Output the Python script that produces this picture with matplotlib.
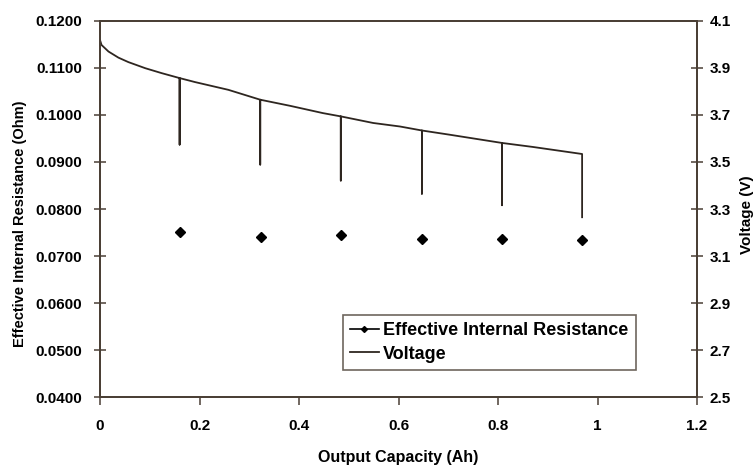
import matplotlib.pyplot as plt
from matplotlib.lines import Line2D

# data
res_cap = [0.161, 0.323, 0.484, 0.647, 0.808, 0.969]
res_ohm = [0.0752, 0.0740, 0.0745, 0.0736, 0.0736, 0.0734]

# voltage trace, each pulse goes down and back up at the same capacity
volt_cap = [0.0, 0.003, 0.017, 0.037, 0.057, 0.091, 0.124,
            0.160, 0.160, 0.160,
            0.191, 0.258, 0.322, 0.322, 0.322,
            0.382, 0.448, 0.484, 0.484, 0.484,
            0.549, 0.603, 0.647, 0.647, 0.647,
            0.703, 0.808, 0.808, 0.808,
            0.870, 0.969, 0.969]
volt_v = [4.019, 3.998, 3.970, 3.944, 3.925, 3.899, 3.878,
          3.857, 3.574, 3.857,
          3.840, 3.807, 3.765, 3.489, 3.765,
          3.739, 3.708, 3.694, 3.421, 3.694,
          3.666, 3.651, 3.634, 3.365, 3.634,
          3.616, 3.581, 3.316, 3.581,
          3.564, 3.534, 3.265]

left_ticks = [0.04, 0.05, 0.06, 0.07, 0.08, 0.09, 0.10, 0.11, 0.12]
right_ticks = [2.5, 2.7, 2.9, 3.1, 3.3, 3.5, 3.7, 3.9, 4.1]
x_ticks = [0, 0.2, 0.4, 0.6, 0.8, 1.0, 1.2]
x_labels = ["0", "0.2", "0.4", "0.6", "0.8", "1", "1.2"]

plt.rcParams['font.family'] = ['Liberation Sans', 'DejaVu Sans']
plt.rcParams['font.weight'] = 'bold'

frame = "#4a3f35"
ink = "#2e2620"

fig = plt.figure(figsize=(7.56, 4.66), dpi=100)
ax = fig.add_axes([0.1323, 0.148, 0.7897, 0.807])
ax2 = ax.twinx()

ax.plot(res_cap, res_ohm, linestyle="none", marker="D", markersize=5.5,
        color="black", zorder=3)
ax2.plot(volt_cap, volt_v, color=ink, linewidth=1.3)

ax.set_xlim(0, 1.2)
ax.set_ylim(0.04, 0.12)
ax2.set_ylim(2.5, 4.1)
ax.set_xticks(x_ticks)
ax.set_xticklabels(x_labels)
ax.set_yticks(left_ticks)
ax.set_yticklabels([f"{t:.4f}" for t in left_ticks])
ax2.set_yticks(right_ticks)
ax2.set_yticklabels([f"{t:.1f}" for t in right_ticks])

for a in (ax, ax2):
    for s in a.spines.values():
        s.set_color(frame)
        s.set_linewidth(1.3)
    a.tick_params(direction="inout", length=8, width=1.1, color=frame,
                  labelsize=11)
ax.tick_params(axis="y", pad=9)
ax2.tick_params(axis="y", pad=5)
ax.tick_params(axis="x", direction="out", length=6, pad=10)

ax.set_xlabel("Output Capacity (Ah)", fontsize=11.5, fontweight="bold")
ax.xaxis.set_label_coords(0.5, -0.14)
ax.set_ylabel("Effective Internal Resistance (Ohm)", fontsize=10.5, fontweight="bold")
ax.yaxis.set_label_coords(-0.122, 0.46)
ax2.set_ylabel("Voltage (V)", fontsize=11, fontweight="bold")
ax2.yaxis.set_label_coords(1.072, 0.484)

handles = [Line2D([], [], color="black", marker="D", markersize=3, linewidth=1.2),
           Line2D([], [], color=ink, linewidth=1.3)]
leg = ax2.legend(handles, ["Effective Internal Resistance", "Voltage"],
                 loc="lower left", bbox_to_anchor=(0.4065, 0.072), borderaxespad=0,
                 fontsize=13, frameon=True, fancybox=False, handlelength=1.6,
                 borderpad=0.4, labelspacing=0.35, handletextpad=0.25)
leg.get_frame().set_edgecolor(frame)
leg.get_frame().set_linewidth(1.2)
for t in leg.get_texts():
    t.set_fontweight("bold")

fig.savefig("out.png", dpi=100)
